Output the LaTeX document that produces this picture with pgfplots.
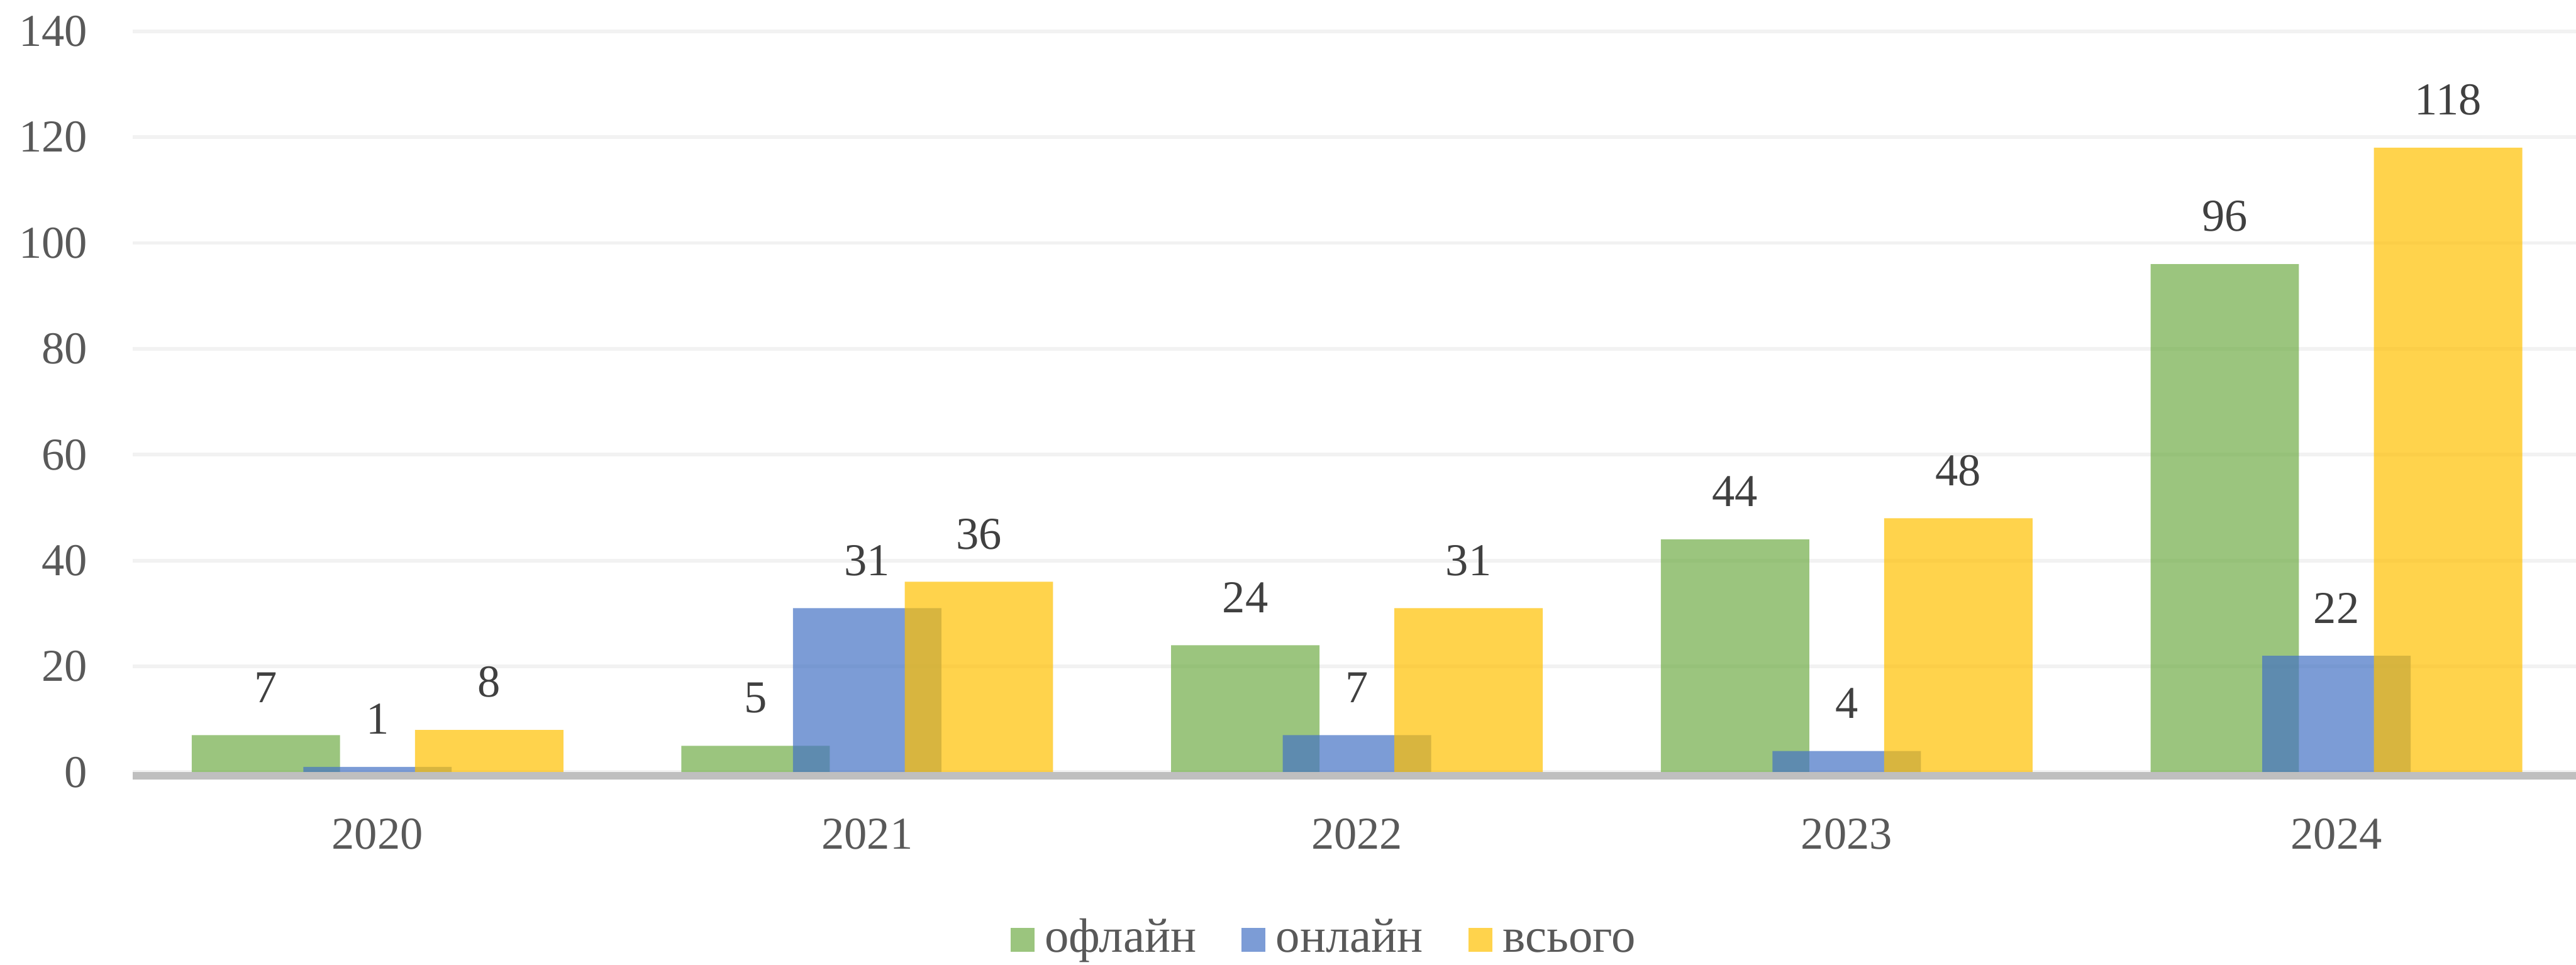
\documentclass[border=0pt]{standalone}
\usepackage{fontspec}
\setmainfont{Liberation Serif}
\usepackage{pgfplots}
\pgfplotsset{compat=1.18}
\definecolor{cgreen}{HTML}{70AD47}
\definecolor{cblue}{HTML}{4472C4}
\definecolor{cyellow}{HTML}{FFC000}
\definecolor{tickc}{HTML}{595959}
\definecolor{labc}{HTML}{404040}
\definecolor{gridc}{HTML}{F2F2F2}
\definecolor{axc}{HTML}{BFBFBF}
\newcommand{\fs}{\fontsize{8.6}{10}\selectfont}
\newcommand{\fl}{\fontsize{9.1}{10}\selectfont}
\begin{document}
\begin{tikzpicture}
\begin{axis}[
  at={(25pt,36.3pt)}, anchor=south west,
  scale only axis, width=461.5pt, height=139.7pt,
  xmin=-0.5, xmax=4.5, ymin=0, ymax=140,
  clip=false,
  xtick={0,1,2,3,4}, xticklabels={2020,2021,2022,2023,2024},
  ytick={0,20,...,140},
  axis line style={draw=none},
  major tick length=0pt,
  ymajorgrids, major grid style={color=gridc, line width=0.7pt},
  /pgf/number format/assume math mode=true,
  tick label style={font=\fs, text=tickc},
  xticklabel style={anchor=center, yshift=-11.7pt},
  yticklabel style={anchor=east, inner sep=0pt, xshift=-8.3pt},
  nodes near coords,
  every node near coord/.append style={font=\fs, text=labc, text opacity=1, anchor=center, yshift=9pt},
  legend columns=3,
  legend style={at={(0.4867,0)}, anchor=center, yshift=-31.6pt, draw=none, fill=none,
     font=\fl, text=tickc, nodes={inner sep=0.5pt, text height=0.68em, text depth=0.22em},
     /tikz/every odd column/.append style={column sep=1.5pt},
     /tikz/every even column/.append style={column sep=8pt}},
  legend image code/.code={\fill[#1, draw=none] (0pt,-2.2pt) rectangle (4.5pt,2.2pt);},
]
\addplot[ybar, bar width=0.303, bar shift=-0.228, fill=cgreen, draw=none, fill opacity=0.7,
  every node near coord/.append style={xshift=-21.04pt}]
  coordinates {(0,7) (1,5) (2,24) (3,44) (4,96)};
\addplot[ybar, bar width=0.303, bar shift=0, fill=cblue, draw=none, fill opacity=0.7]
  coordinates {(0,1) (1,31) (2,7) (3,4) (4,22)};
\addplot[ybar, bar width=0.303, bar shift=0.228, fill=cyellow, draw=none, fill opacity=0.7,
  every node near coord/.append style={xshift=21.04pt}]
  coordinates {(0,8) (1,36) (2,31) (3,48) (4,118)};
\legend{офлайн, онлайн, всього}
\draw[color=axc, line width=1.4pt] ([yshift=-0.7pt]axis cs:-0.5,0) -- ([yshift=-0.7pt]axis cs:4.5,0);
\end{axis}
\pgfresetboundingbox
\path (0,0) rectangle (485.5pt,181.9pt);
\end{tikzpicture}
\end{document}
